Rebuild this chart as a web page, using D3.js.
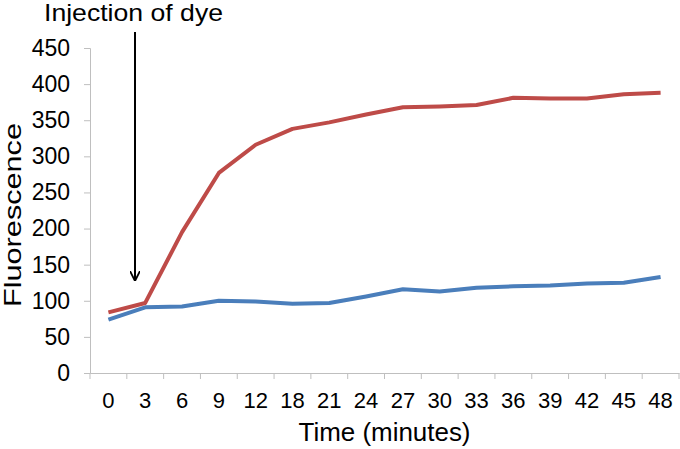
<!DOCTYPE html>
<html>
<head>
<meta charset="utf-8">
<script src="https://cdn.jsdelivr.net/npm/d3@7"></script>
<style>
  body { margin: 0; background: #fff; }
  text { font-family: "Liberation Sans", Arial, sans-serif; fill: #000; }
</style>
</head>
<body>
<svg width="680" height="449"></svg>
<script>
// time points (minutes), one category each
var times = [0, 3, 6, 9, 12, 18, 21, 24, 27, 30, 33, 36, 39, 42, 45, 48];
var redValues = [84, 97, 195, 277, 316, 338, 347, 358, 368, 369, 371, 381, 380, 380, 386, 388];
var blueValues = [74, 91, 92, 100, 99, 96, 97, 106, 116, 113, 118, 120, 121, 124, 125, 133];
var yTicks = [0, 50, 100, 150, 200, 250, 300, 350, 400, 450];

var svg = d3.select("svg");
var plotLeft = 90, plotRight = 679, plotTop = 48, plotBottom = 373;

var x = d3.scaleBand()
    .domain(times)
    .range([plotLeft, plotRight]);

var y = d3.scaleLinear()
    .domain([0, 450])
    .range([plotBottom, plotTop]);

// y axis
var yAxis = svg.append("g")
    .attr("transform", "translate(" + plotLeft + ",0)")
    .call(d3.axisLeft(y).tickValues(yTicks).tickSize(6).tickPadding(14));
yAxis.select(".domain").attr("stroke", "#bfbfbf");
yAxis.selectAll(".tick line").attr("stroke", "#bfbfbf");
yAxis.selectAll(".tick text")
    .attr("font-size", 23);

// x axis, ticks sit between categories
var xAxis = svg.append("g")
    .attr("transform", "translate(0," + plotBottom + ")")
    .call(d3.axisBottom(x).tickSize(0).tickPadding(19));
xAxis.select(".domain").attr("stroke", "#bfbfbf");
xAxis.selectAll(".tick text")
    .attr("font-size", 22);
var bounds = times.map(d => x(d)).concat([x(times[times.length - 1]) + x.bandwidth()]);
xAxis.selectAll(".sep")
    .data(bounds)
    .enter().append("line")
    .attr("x1", d => d).attr("x2", d => d)
    .attr("y1", 0).attr("y2", 6)
    .attr("stroke", "#bfbfbf");

var line = d3.line()
    .x((d, i) => x(times[i]) + x.bandwidth() / 2)
    .y(d => y(d));

svg.append("path")
    .datum(blueValues)
    .attr("d", line)
    .attr("fill", "none")
    .attr("stroke", "#4a7ebb")
    .attr("stroke-width", 4)
    .attr("stroke-linejoin", "round");

svg.append("path")
    .datum(redValues)
    .attr("d", line)
    .attr("fill", "none")
    .attr("stroke", "#be4b48")
    .attr("stroke-width", 4)
    .attr("stroke-linejoin", "round");

// axis titles
svg.append("text")
    .attr("x", (plotLeft + plotRight) / 2)
    .attr("y", 441)
    .attr("text-anchor", "middle")
    .attr("font-size", 25)
    .attr("textLength", 172)
    .attr("lengthAdjust", "spacingAndGlyphs")
    .text("Time (minutes)");

svg.append("text")
    .attr("transform", "translate(21,215) rotate(-90)")
    .attr("text-anchor", "middle")
    .attr("font-size", 24)
    .attr("textLength", 184)
    .attr("lengthAdjust", "spacingAndGlyphs")
    .text("Fluorescence");

// annotation
svg.append("defs").append("marker")
    .attr("id", "head")
    .attr("viewBox", "0 0 10 10")
    .attr("refX", 10).attr("refY", 5)
    .attr("markerWidth", 5).attr("markerHeight", 5)
    .attr("orient", "auto")
    .append("path")
    .attr("d", "M0,0 L10,5 L0,10")
    .attr("fill", "none")
    .attr("stroke", "#000")
    .attr("stroke-width", 1.8);

svg.append("line")
    .attr("x1", 135).attr("y1", 32)
    .attr("x2", 135).attr("y2", 281)
    .attr("stroke", "#000")
    .attr("stroke-width", 2)
    .attr("marker-end", "url(#head)");

svg.append("text")
    .attr("x", 44)
    .attr("y", 21)
    .attr("font-size", 24)
    .attr("textLength", 179)
    .attr("lengthAdjust", "spacingAndGlyphs")
    .text("Injection of dye");
</script>
</body>
</html>
